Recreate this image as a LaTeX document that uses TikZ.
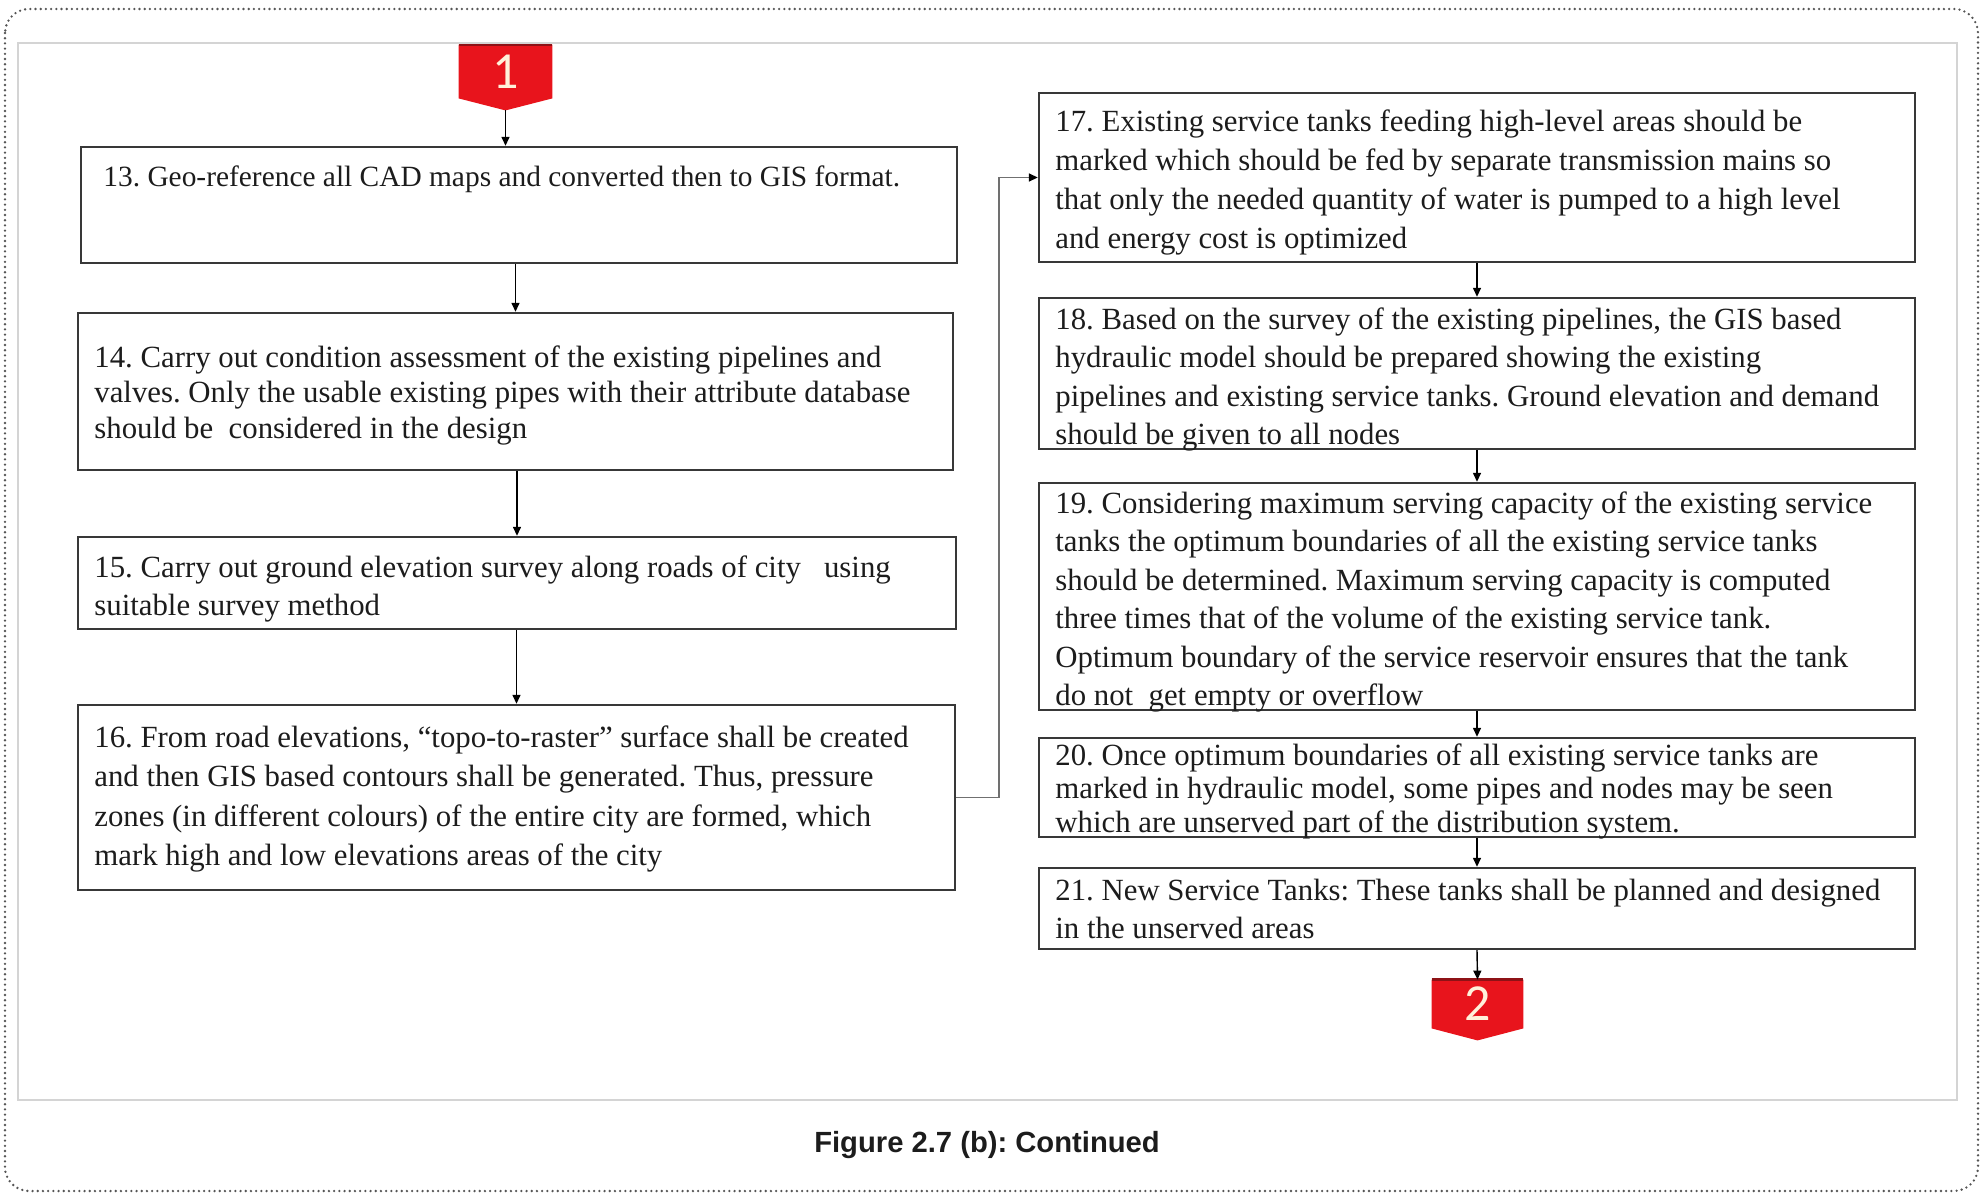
\documentclass[tikz,border=0pt]{standalone}
\usepackage{fontspec}
\setmainfont{Liberation Serif}
\newfontfamily\capfont{Liberation Sans}
\newfontfamily\flagfont{Carlito}
\usetikzlibrary{arrows.meta,calc}
\pgfdeclarelayer{back}
\pgfsetlayers{back,main}
\definecolor{flagred}{HTML}{E8141C}
\definecolor{flagedge}{HTML}{8E1216}
\definecolor{flagtext}{HTML}{FFF1DA}
\definecolor{boxline}{HTML}{383838}
\definecolor{txt}{HTML}{1C1C1C}
\definecolor{frameline}{HTML}{D4D4D4}
\definecolor{dotline}{HTML}{555555}
\definecolor{linkline}{HTML}{707070}
\frenchspacing
\begin{document}
\begin{tikzpicture}[x=0.5pt,y=-0.5pt,
  stepbox/.style={draw=boxline, line width=1.2pt, inner sep=0pt},
  steptext/.style={anchor=north west, inner sep=0pt, align=left, text=txt,
    font=\fontsize{15.4}{#1}\selectfont},
  arr/.style={draw=black, line width=0.7pt, -{Triangle[length=4.5pt,width=4pt]}},
  link/.style={draw=linkline, line width=0.8pt, -{Triangle[length=4.5pt,width=4pt,color=black]}},
  flag/.style={minimum width=#1, minimum height=24pt, inner sep=0pt, text=flagtext,
    font=\flagfont\fontsize{26}{26}\selectfont},
]
\useasboundingbox (0,0) rectangle (1982,1195);

% page frames
\draw[dotline, line width=1.3pt, dash pattern=on 0pt off 2.6pt, line cap=round,
  rounded corners=12pt] (5,9) rectangle (1978,1191);
\draw[frameline, line width=1pt] (18,43) rectangle (1957,1100);

% connector flags
\node[flag=46.5pt, minimum height=26.5pt] (m1) at (505.5,71.5) {1};
\node[flag=45.5pt] (m2) at (1477.5,1004) {2};
\begin{pgfonlayer}{back}
\foreach \m in {m1,m2} {
  \fill[flagred] (\m.north west) -- (\m.north east) -- (\m.south east)
    -- ($(\m.south)+(0,12)$) -- (\m.south west) -- cycle;
  \draw[flagedge, line width=1.2pt] (\m.north west) -- (\m.north east);
}
\end{pgfonlayer}
\coordinate (m1tip) at ($(m1.south)+(0,12)$);

% step boxes
\node[stepbox, minimum width=438pt, minimum height=58pt]   (b13) at (519,205) {};
\node[stepbox, minimum width=437.5pt, minimum height=78.5pt] (b14) at (515.5,391.5) {};
\node[stepbox, minimum width=439pt, minimum height=46pt]   (b15) at (517,583) {};
\node[stepbox, minimum width=438.5pt, minimum height=92.5pt] (b16) at (516.5,797.5) {};
\node[stepbox, minimum width=438pt, minimum height=84.5pt] (b17) at (1477,177.5) {};
\node[stepbox, minimum width=438pt, minimum height=75.5pt] (b18) at (1477,373.5) {};
\node[stepbox, minimum width=438pt, minimum height=113.5pt] (b19) at (1477,596.5) {};
\node[stepbox, minimum width=438pt, minimum height=49.5pt] (b20) at (1477,787.5) {};
\node[stepbox, minimum width=438pt, minimum height=40.5pt] (b21) at (1477,908.5) {};

% step texts
\node[steptext=18, font=\fontsize{14.7}{18}\selectfont] (t13) at (103,165)
  {13. Geo-reference all CAD maps and converted then to GIS format.};
\node[steptext=17.75] (t14) at (94,345)
  {14. Carry out condition assessment of the existing pipelines and\\
   valves. Only the usable existing pipes with their attribute database\\
   should be\ \ considered in the design};
\node[steptext=19] (t15) at (94,555)
  {15. Carry out ground elevation survey along roads of city\ \ \ using\\
   suitable survey method};
\node[steptext=19.75] (t16) at (94,725)
  {16. From road elevations, “topo-to-raster” surface shall be created\\
   and then GIS based contours shall be generated. Thus, pressure\\
   zones (in different colours) of the entire city are formed, which\\
   mark high and low elevations areas of the city};
\node[steptext=19.5] (t17) at (1055,109)
  {17. Existing service tanks feeding high-level areas should be\\
   marked which should be fed by separate transmission mains so\\
   that only the needed quantity of water is pumped to a high level\\
   and energy cost is optimized};
\node[steptext=19.25] (t18) at (1055,307)
  {18. Based on the survey of the existing pipelines, the GIS based\\
   hydraulic model should be prepared showing the existing\\
   pipelines and existing service tanks. Ground elevation and demand\\
   should be given to all nodes};
\node[steptext=19.25] (t19) at (1055,491)
  {19. Considering maximum serving capacity of the existing service\\
   tanks the optimum boundaries of all the existing service tanks\\
   should be determined. Maximum serving capacity is computed\\
   three times that of the volume of the existing service tank.\\
   Optimum boundary of the service reservoir ensures that the tank\\
   do not\ \ get empty or overflow};
\node[steptext=16.75] (t20) at (1055,743)
  {20. Once optimum boundaries of all existing service tanks are\\
   marked in hydraulic model, some pipes and nodes may be seen\\
   which are unserved part of the distribution system.};
\node[steptext=19] (t21) at (1055,879)
  {21. New Service Tanks: These tanks shall be planned and designed\\
   in the unserved areas};

% connectors
\draw[arr] (m1tip) -- (m1tip |- b13.north);
\draw[arr] (b14.north |- b13.south) -- (b14.north);
\draw[arr] (b15.north |- b14.south) -- (b15.north);
\draw[arr] (b16.north |- b15.south) -- (b16.north);
\draw[link] (b16.east) -- ++(43,0) |- (b17.west);
\draw[arr] (b17.south) -- (b18.north);
\draw[arr] (b18.south) -- (b19.north);
\draw[arr] (b19.south) -- (b20.north);
\draw[arr] (b20.south) -- (b21.north);
\draw[arr] (b21.south) -- (m2.north);

% caption
\node[anchor=base, text=txt, font=\capfont\bfseries\fontsize{14.6}{18}\selectfont]
  (cap) at (987,1152) {Figure 2.7 (b): Continued};
\end{tikzpicture}
\end{document}
